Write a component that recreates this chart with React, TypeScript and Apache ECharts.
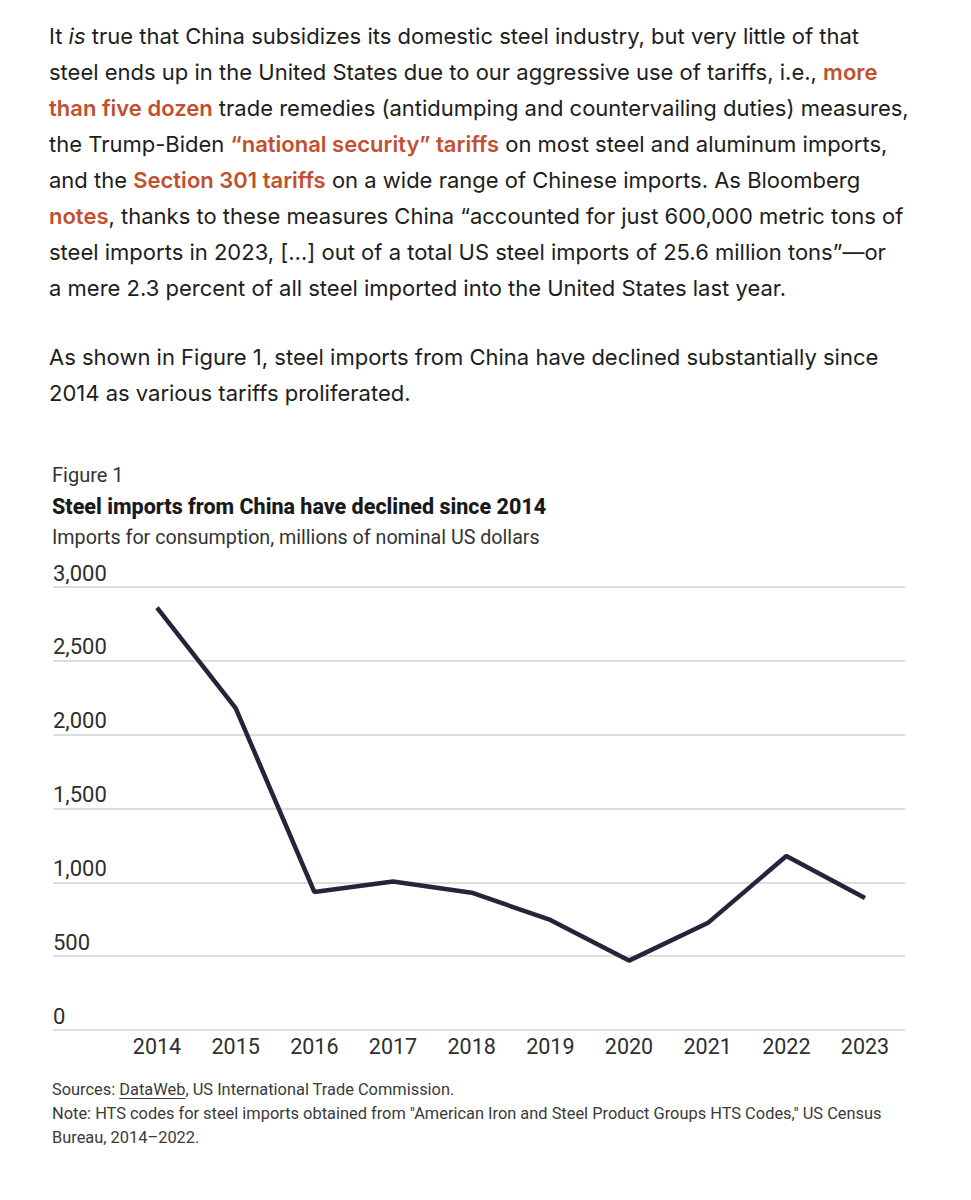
import React, { useEffect, useRef } from "react";
import * as echarts from "echarts";

// ---------- data ----------
const years = ["2014", "2015", "2016", "2017", "2018", "2019", "2020", "2021", "2022", "2023"];
const importsFromChina = [2860, 2180, 935, 1005, 930, 745, 470, 724, 1178, 894];
const yAxisMax = 3000;
const yAxisStep = 500;

// ---------- texts ----------
type Seg = [string, string]; // [style, text]
const paragraph1: Seg[][] = [
  [["n", "It "], ["i", "is"], ["n", " true that China subsidizes its domestic steel industry, but very little of that"]],
  [["n", "steel ends up in the United States due to our aggressive use of tariffs, i.e., "], ["l", "more"]],
  [["l", "than five dozen"], ["n", " trade remedies (antidumping and countervailing duties) measures,"]],
  [["n", "the Trump-Biden "], ["l", "\u201Cnational security\u201D tariffs"], ["n", " on most steel and aluminum imports,"]],
  [["n", "and the "], ["l", "Section 301 tariffs"], ["n", " on a wide range of Chinese imports. As Bloomberg"]],
  [["l", "notes"], ["n", ", thanks to these measures China \u201Caccounted for just 600,000 metric tons of"]],
  [["n", "steel imports in 2023, [\u2026] out of a total US steel imports of 25.6 million tons\u201D\u2014or"]],
  [["n", "a mere 2.3 percent of all steel imported into the United States last year."]],
];
const paragraph2: Seg[][] = [
  [["n", "As shown in Figure 1, steel imports from China have declined substantially since"]],
  [["n", "2014 as various tariffs proliferated."]],
];
const figureLabel = "Figure 1";
const figureTitle = "Steel imports from China have declined since 2014";
const figureSubtitle = "Imports for consumption, millions of nominal US dollars";
const sourcesPrefix = "Sources: ";
const sourcesLink = "DataWeb";
const sourcesRest = ", US International Trade Commission.";
const noteLines = [
  "Note: HTS codes for steel imports obtained from \"American Iron and Steel Product Groups HTS Codes,\" US Census",
  "Bureau, 2014\u20132022.",
];

const BODY_FONT = "Inter";
const CHART_FONT = "Roboto";
const TEXT_COLOR = "#1d1d1d";
const LINK_COLOR = "#c0502e";

export default function App() {
  const ref = useRef<HTMLDivElement>(null);

  useEffect(() => {
    document.body.style.margin = "0";
    if (!ref.current) return;
    const chart = echarts.init(ref.current, null, { renderer: "svg" });

    const bodySize = 22;
    const rich = {
      n: { fontFamily: BODY_FONT, fontSize: bodySize, fill: TEXT_COLOR, color: TEXT_COLOR, lineHeight: 30 },
      i: { fontFamily: BODY_FONT, fontSize: bodySize, fontStyle: "italic", fill: TEXT_COLOR, color: TEXT_COLOR, lineHeight: 30 },
      l: { fontFamily: BODY_FONT, fontSize: bodySize, fontWeight: 600, fill: LINK_COLOR, color: LINK_COLOR, lineHeight: 30 },
    };
    const lineText = (segs: Seg[], x: number, y: number) => ({
      type: "text",
      x,
      y,
      silent: true,
      style: {
        text: segs.map(([s, t]) => `{${s}|${t}}`).join(""),
        rich,
        align: "left",
        verticalAlign: "middle",
        textAlign: "left",
        textVerticalAlign: "middle",
      },
    });
    const plainText = (text: string, x: number, y: number, size: number, color: string, weight: any = "normal", family = CHART_FONT) => ({
      type: "text",
      x,
      y,
      silent: true,
      style: {
        text,
        fill: color,
        fontFamily: family,
        fontSize: size,
        fontWeight: weight,
        align: "left",
        verticalAlign: "middle",
        textAlign: "left",
        textVerticalAlign: "middle",
      },
    });

    const graphics: any[] = [];
    paragraph1.forEach((segs, i) => graphics.push(lineText(segs, 49, 36 + i * 36)));
    paragraph2.forEach((segs, i) => graphics.push(lineText(segs, 49, 357 + i * 35.5)));

    graphics.push(plainText(figureLabel, 52, 475, 20, "#333"));
    graphics.push(plainText(figureTitle, 52, 506, 21.5, "#1a1a1a", 800));
    graphics.push(plainText(figureSubtitle, 52, 537, 19.7, "#333"));

    const srcSize = 16.4;
    graphics.push(plainText(sourcesPrefix + sourcesLink + sourcesRest, 52, 1089, srcSize, "#3a3a3a"));
    noteLines.forEach((t, i) => graphics.push(plainText(t, 52, 1113 + i * 24, srcSize, "#3a3a3a")));

    // underline for the link in sources
    const ctx = document.createElement("canvas").getContext("2d");
    if (ctx) {
      ctx.font = `${srcSize}px ${CHART_FONT}`;
      const x0 = 52 + ctx.measureText(sourcesPrefix).width;
      const w = ctx.measureText(sourcesLink).width;
      graphics.push({
        type: "line",
        silent: true,
        shape: { x1: x0, y1: 1098.5, x2: x0 + w, y2: 1098.5 },
        style: { stroke: "#3a3a3a", lineWidth: 1 },
      });
    }

    const option: any = {
      animation: false,
      backgroundColor: "#ffffff",
      textStyle: { fontFamily: CHART_FONT },
      grid: [
        { left: 53, right: 66, top: 587, bottom: 170 },
        { left: 157, right: 106, top: 587, bottom: 170 },
      ],
      xAxis: [
        { gridIndex: 0, type: "value", min: 0, max: 1, show: false },
        {
          gridIndex: 1,
          type: "category",
          data: years,
          boundaryGap: false,
          axisLine: { show: false },
          axisTick: { show: false },
          splitLine: { show: false },
          axisLabel: { fontSize: 21.5, color: "#2e2e2e", margin: 5, fontFamily: CHART_FONT },
        },
      ],
      yAxis: [
        {
          gridIndex: 0,
          type: "value",
          min: 0,
          max: yAxisMax,
          interval: yAxisStep,
          axisLine: { show: false },
          axisTick: { show: false },
          axisLabel: {
            inside: true,
            margin: 0,
            verticalAlign: "bottom",
            padding: [0, 0, 3, 0],
            fontSize: 22,
            color: "#2e2e2e",
            fontFamily: CHART_FONT,
          },
          splitLine: { lineStyle: { color: "#d2d2d2", width: 1.5 } },
        },
        { gridIndex: 1, type: "value", min: 0, max: yAxisMax, show: false },
      ],
      series: [
        {
          type: "line",
          xAxisIndex: 1,
          yAxisIndex: 1,
          data: importsFromChina,
          symbol: "none",
          silent: true,
          lineStyle: { color: "#26233a", width: 4.5 },
        },
      ],
      graphic: graphics,
    };
    chart.setOption(option);
    return () => chart.dispose();
  }, []);

  return <div ref={ref} style={{ width: 971, height: 1200 }} />;
}
